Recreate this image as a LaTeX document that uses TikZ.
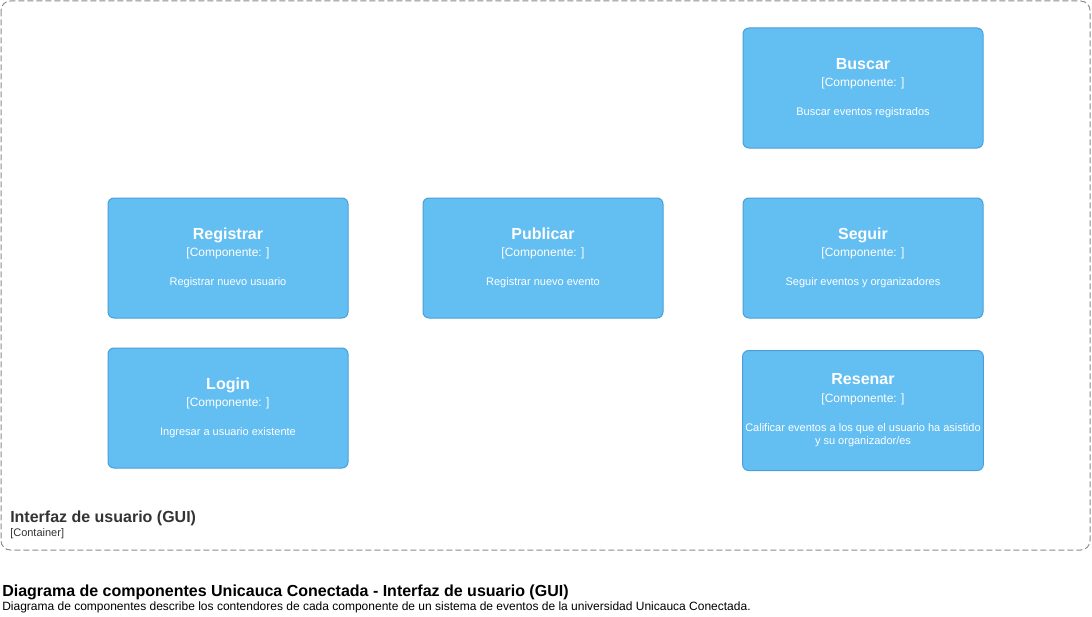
\documentclass[tikz,border=0pt]{standalone}
\usepackage{fontspec}
\setmainfont{Liberation Sans}
\usetikzlibrary{positioning}
\definecolor{compfill}{HTML}{63BEF2}
\definecolor{compline}{HTML}{4A9FDB}
\definecolor{bordergray}{HTML}{8C8C8C}
\definecolor{labelgray}{HTML}{333333}
\newcommand{\comptxt}[3]{{\fontsize{12pt}{14pt}\selectfont\bfseries #1}\\[1pt]
  {\fontsize{9pt}{11pt}\selectfont [Componente: ]}\\[10pt]
  {\fontsize{8.25pt}{10.5pt}\selectfont #2}#3}
\tikzset{
  compbox/.style={draw=compline, line width=0.75pt, fill=compfill, rounded corners=4.5pt,
                  minimum width=180pt, minimum height=90pt, inner sep=2pt,
                  align=center, text=white},
  boundary/.style={draw=bordergray, line width=0.75pt, dash pattern=on 4.5pt off 2.25pt,
                   rounded corners=7pt},
  plain/.style={anchor=base west, inner sep=0pt, align=left}}

\begin{document}
\begin{tikzpicture}[x=0.75pt, y=-0.75pt]
    \useasboundingbox (0,0) rectangle (1092,617);
    \draw[boundary] (1,1) rectangle (1090,550);
    \node[compbox] (buscar)    at (863,88)    {\comptxt{Buscar}{Buscar eventos registrados}{}};
    \node[compbox] (registrar) at (228,258)   {\comptxt{Registrar}{Registrar nuevo usuario}{}};
    \node[compbox] (publicar)  at (543,258)   {\comptxt{Publicar}{Registrar nuevo evento}{}};
    \node[compbox] (seguir)    at (863,258)   {\comptxt{Seguir}{Seguir eventos y organizadores}{}};
    \node[compbox] (login)     at (228,408)   {\comptxt{Login}{Ingresar a usuario existente}{}};
    \node[compbox] (resenar)   at (863,410.5)
      {\comptxt{Resenar}{Calificar eventos a los que el usuario ha asistido}{\\[-2pt]
       {\fontsize{8.25pt}{10.5pt}\selectfont y su organizador/es}}};
    % container label
    \node[plain, text=labelgray, font=\fontsize{12pt}{14pt}\selectfont\bfseries] (gui) at (10,522)
      {Interfaz de usuario (GUI)};
    \node[plain, text=labelgray, font=\fontsize{8.25pt}{10pt}\selectfont] (guitype) at (10,536)
      {[Container]};
    % diagram title
    \node[plain, font=\fontsize{12pt}{14pt}\selectfont\bfseries] (title) at (2,596)
      {Diagrama de componentes Unicauca Conectada - Interfaz de usuario (GUI)};
    \node[plain, font=\fontsize{9pt}{11pt}\selectfont] (subtitle) at (2,610)
      {Diagrama de componentes describe los contendores de cada componente de un sistema de eventos de la universidad Unicauca Conectada.};
  \end{tikzpicture}
\end{document}
